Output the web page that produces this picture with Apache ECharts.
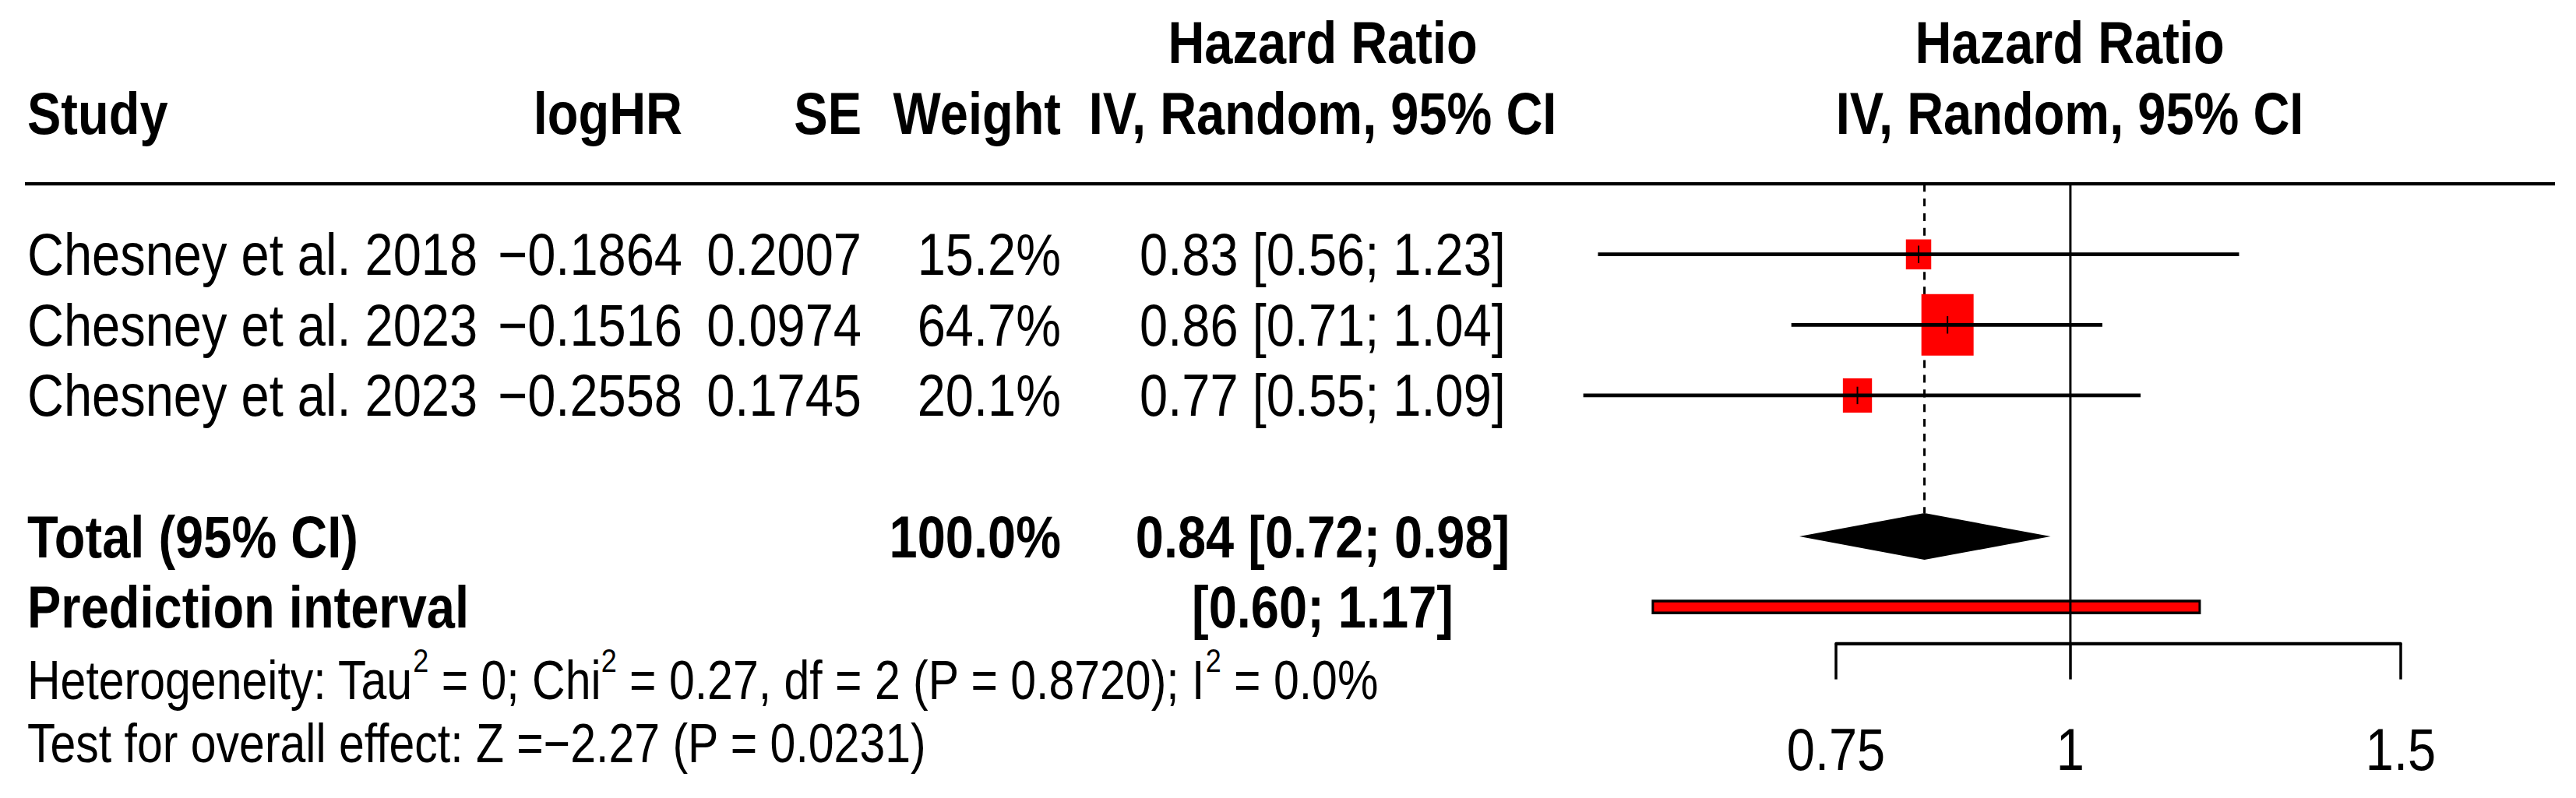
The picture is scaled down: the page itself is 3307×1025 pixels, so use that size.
<!DOCTYPE html>
<html><head><meta charset="utf-8">
<script src="https://cdn.jsdelivr.net/npm/echarts@6/dist/echarts.min.js"></script>
<style>
html,body{margin:0;padding:0;background:#fff;overflow:hidden;width:3307px;height:1025px;}
#wrap{width:3307px;height:1025px;overflow:hidden;}
#chart{width:3307px;height:869px;transform-origin:0 0;transform:scaleY(1.17952);}
</style></head><body><div id="wrap"><div id="chart"></div></div>
<script>
// ---------------- data ----------------
const studies = ['Chesney et al. 2018', 'Chesney et al. 2023', 'Chesney et al. 2023'];
const logHR = [-0.1864, -0.1516, -0.2558];
const seVals = [0.2007, 0.0974, 0.1745];
const weights = [15.2, 64.7, 20.1];
const hr = [0.83, 0.86, 0.77];
const ciLow = [0.56, 0.71, 0.55];
const ciHigh = [1.23, 1.04, 1.09];
const totalWeight = 100.0;
const pooled = [0.836, 0.717, 0.976];      // estimate, lower, upper
const predInterval = [0.599, 1.172];
const tickValues = [0.75, 1, 1.5];
const tickLabels = ['0.75', '1', '1.5'];
const hetText = 'Heterogeneity: Tau\u00B2 = 0; Chi\u00B2 = 0.27, df = 2 (P = 0.8720); I\u00B2 = 0.0%';
const testText = 'Test for overall effect: Z =\u22122.27 (P = 0.0231)';
const headerTop = 'Hazard Ratio';
const headerSub = 'IV, Random, 95% CI';

// ---------------- layout ----------------
const H = 869;
const ROW0 = 46.6, ROWH = 76.8;
const rowY = k => ROW0 + ROWH * k;
const AXIS_Y = 700.8;
const Y_MAX = (AXIS_Y - ROW0) / ROWH;
const studyRows = [3, 4, 5];
const totalRow = 7, piRow = 8;
const FONT = '"Liberation Sans", Arial, Helvetica, sans-serif';
const FS = 65, FS_SMALL = 59;
const COL_STUDY = 35, COL_LOGHR = 876, COL_SE = 1106, COL_W = 1362, COL_HR = 1698, COL_PLOT = 2657;
const SQ_MAX = 67, DIAMOND_H = 25.4, PI_H = 13;
const maxW = Math.max(...weights);
const minus = s => s.replace('-', '\u2212');

function txt(str, x, y, align, bold, size) {
  const font = (bold ? 'bold ' : '') + (size || FS) + 'px ' + FONT;
  return {
    type: 'text', x: x, y: y, silent: true,
    style: { text: str, fill: '#000', font: font, align: align, verticalAlign: 'middle',
             textAlign: align, textVerticalAlign: 'middle' }
  };
}
function supTxt(str, x, y, size) {
  const rich = '{n|' + str.split('\u00B2').join('}{s|2}{n|') + '}';
  return {
    type: 'text', x: x, y: y, silent: true,
    style: {
      text: rich, fill: '#000', align: 'left', verticalAlign: 'middle', textAlign: 'left', textVerticalAlign: 'middle',
      rich: {
        n: { fontSize: size, fontFamily: FONT, fill: '#000', lineHeight: 80 },
        s: { fontSize: 36, fontFamily: FONT, fill: '#000', lineHeight: 36, verticalAlign: 'top' }
      }
    }
  };
}

const graphics = [];
graphics.push(txt(headerTop, COL_HR, rowY(0), 'center', true));
graphics.push(txt(headerTop, COL_PLOT, rowY(0), 'center', true));
graphics.push(txt('Study', COL_STUDY, rowY(1), 'left', true));
graphics.push(txt('logHR', COL_LOGHR, rowY(1), 'right', true));
graphics.push(txt('SE', COL_SE, rowY(1), 'right', true));
graphics.push(txt('Weight', COL_W, rowY(1), 'right', true));
graphics.push(txt(headerSub, COL_HR, rowY(1), 'center', true));
graphics.push(txt(headerSub, COL_PLOT, rowY(1), 'center', true));
graphics.push({ type: 'line', silent: true,
  shape: { x1: 32, y1: rowY(2), x2: 3280, y2: rowY(2) },
  style: { stroke: '#000', lineWidth: 3.6 } });
studies.forEach((s, i) => {
  const y = rowY(studyRows[i]);
  graphics.push(txt(s, COL_STUDY, y, 'left', false));
  graphics.push(txt(minus(logHR[i].toFixed(4)), COL_LOGHR, y, 'right', false));
  graphics.push(txt(seVals[i].toFixed(4), COL_SE, y, 'right', false));
  graphics.push(txt(weights[i].toFixed(1) + '%', COL_W, y, 'right', false));
  graphics.push(txt(hr[i].toFixed(2) + ' [' + ciLow[i].toFixed(2) + '; ' + ciHigh[i].toFixed(2) + ']', COL_HR, y, 'center', false));
});
graphics.push(txt('Total (95% CI)', COL_STUDY, rowY(totalRow), 'left', true));
graphics.push(txt(totalWeight.toFixed(1) + '%', COL_W, rowY(totalRow), 'right', true));
graphics.push(txt(pooled[0].toFixed(2) + ' [' + pooled[1].toFixed(2) + '; ' + pooled[2].toFixed(2) + ']', COL_HR, rowY(totalRow), 'center', true));
graphics.push(txt('Prediction interval', COL_STUDY, rowY(piRow), 'left', true));
graphics.push(txt('[' + predInterval[0].toFixed(2) + '; ' + predInterval[1].toFixed(2) + ']', COL_HR, rowY(piRow), 'center', true));
graphics.push(supTxt(hetText, COL_STUDY, 741, FS_SMALL));
graphics.push(txt(testText, COL_STUDY, 810, 'left', false, FS_SMALL));

const L = Math.log;
const studyData = studies.map((s, i) => [L(hr[i]), L(ciLow[i]), L(ciHigh[i]), studyRows[i], weights[i]]);

const chart = echarts.init(document.getElementById('chart'), null, { renderer: 'svg', width: 3307, height: H });
chart.setOption({
  animation: false,
  backgroundColor: '#fff',
  grid: { left: 2357, right: 225, top: rowY(2), bottom: H - AXIS_Y, containLabel: false, outerBoundsMode: 'none' },
  xAxis: {
    type: 'value', min: L(tickValues[0]), max: L(tickValues[tickValues.length - 1]),
    axisLine: { show: true, lineStyle: { color: '#000', width: 3.5 } },
    axisTick: { show: true, inside: false, length: 39, customValues: tickValues.map(L), lineStyle: { color: '#000', width: 3.5 } },
    axisLabel: {
      show: true, customValues: tickValues.map(L), margin: 115, verticalAlign: 'middle',
      color: '#000', fontSize: FS, fontFamily: FONT,
      formatter: v => { const i = tickValues.findIndex(t => Math.abs(L(t) - v) < 1e-6); return i >= 0 ? tickLabels[i] : ''; }
    },
    splitLine: { show: false }
  },
  yAxis: { type: 'value', inverse: true, min: 2, max: Y_MAX, show: false, splitLine: { show: false } },
  graphic: graphics,
  series: [
    { // dashed pooled-estimate line
      type: 'custom', clip: false, z: 1,
      data: [[L(pooled[0]), totalRow]],
      encode: { x: 0, y: 1 },
      renderItem: (p, api) => {
        const top = api.coord([api.value(0), 2]);
        const bot = api.coord([api.value(0), api.value(1)]);
        return { type: 'line', shape: { x1: top[0], y1: top[1], x2: bot[0], y2: bot[1] - DIAMOND_H },
                 style: { stroke: '#000', lineWidth: 3, lineDash: [8.5, 7.5] } };
      }
    },
    { // prediction interval bar
      type: 'custom', clip: false, z: 2,
      data: [[L(predInterval[0]), L(predInterval[1]), piRow]],
      encode: { x: [0, 1], y: 2 },
      renderItem: (p, api) => {
        const a = api.coord([api.value(0), api.value(2)]);
        const b = api.coord([api.value(1), api.value(2)]);
        return { type: 'rect', shape: { x: a[0], y: a[1] - PI_H / 2, width: b[0] - a[0], height: PI_H },
                 style: { fill: '#ff0000', stroke: '#000', lineWidth: 3 } };
      }
    },
    { // studies
      type: 'custom', clip: false, z: 3,
      data: studyData,
      encode: { x: [0, 1, 2], y: 3 },
      renderItem: (p, api) => {
        const row = api.value(3);
        const c = api.coord([api.value(0), row]);
        const lo = api.coord([api.value(1), row]);
        const hi = api.coord([api.value(2), row]);
        const s = SQ_MAX * Math.sqrt(api.value(4) / maxW);
        return { type: 'group', children: [
          { type: 'rect', shape: { x: c[0] - s / 2, y: c[1] - s / 2, width: s, height: s }, style: { fill: '#ff0000' } },
          { type: 'line', shape: { x1: lo[0], y1: c[1], x2: hi[0], y2: c[1] }, style: { stroke: '#000', lineWidth: 4 } },
          { type: 'line', shape: { x1: c[0], y1: c[1] - 9.5, x2: c[0], y2: c[1] + 9.5 }, style: { stroke: '#000', lineWidth: 2 } }
        ] };
      }
    },
    { // pooled diamond
      type: 'custom', clip: false, z: 4,
      data: [[L(pooled[0]), L(pooled[1]), L(pooled[2]), totalRow]],
      encode: { x: [0, 1, 2], y: 3 },
      renderItem: (p, api) => {
        const row = api.value(3);
        const c = api.coord([api.value(0), row]);
        const l = api.coord([api.value(1), row]);
        const r = api.coord([api.value(2), row]);
        return { type: 'polygon', shape: { points: [[l[0], c[1]], [c[0], c[1] - DIAMOND_H], [r[0], c[1]], [c[0], c[1] + DIAMOND_H]] },
                 style: { fill: '#000' } };
      }
    },
    { // null-effect reference line
      type: 'line', clip: false, z: 5, symbol: 'none', silent: true,
      data: [[L(1), 2], [L(1), Y_MAX]],
      lineStyle: { color: '#000', width: 3 }
    }
  ]
});
</script></body></html>
